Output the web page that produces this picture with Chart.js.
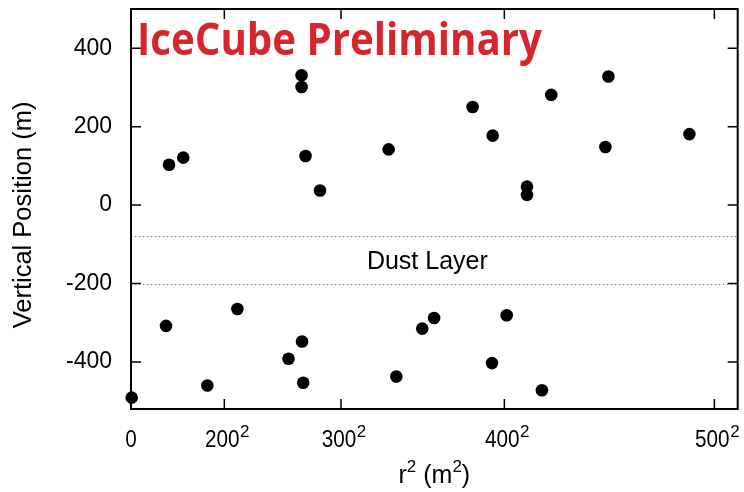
<!DOCTYPE html>
<html>
<head>
<meta charset="utf-8">
<script src="https://cdn.jsdelivr.net/npm/chart.js@4"></script>
<style>
  html, body { margin: 0; padding: 0; background: #fff; }
  canvas { display: block; }
</style>
</head>
<body>
<canvas id="c" width="744" height="492"></canvas>
<script>
// ---- data ----
const r2Values = [16300, 22400, 73100, 73100, 74800, 81000, 110400, 146400, 155000, 180100, 204600, 203300, 239300, 169700, 169700,
                  300, 15000, 32700, 45600, 67500, 73300, 73800, 113700, 124800, 129900, 154700, 161000, 176100];
const zValues  = [103, 121, 331, 301, 125, 37, 142, 250, 177, 281, 328, 148, 181, 47, 26,
                  -491, -308, -460, -265, -392, -348, -453, -437, -315, -288, -403, -281, -472];
const xTickValues = [0, 40000, 90000, 160000, 250000];
const xTickBases  = ['0', '200', '300', '400', '500'];
const xTickPowers = ['', '2', '2', '2', '2'];
const yTickValues = [-400, -200, 0, 200, 400];
const dustLayer = [-80, -200];
const dustLabel = 'Dust Layer';
const titleText = 'IceCube Preliminary';
const yTitleText = 'Vertical Position (m)';
const xTitleParts = [['r', false], ['2', true], [' (m', false], ['2', true], [')', false]];

const points = r2Values.map((x, i) => ({ x: x, y: zValues[i] }));
const FONT = '"Liberation Sans", Arial, sans-serif';

const framePlugin = {
  id: 'frame',
  beforeDatasetsDraw(chart) {
    const { ctx, chartArea: a, scales } = chart;
    const ys = scales.y;
    ctx.save();
    ctx.strokeStyle = '#777';
    ctx.lineWidth = 1;
    ctx.setLineDash([1.2, 2.8]);
    dustLayer.forEach(v => {
      const py = Math.round(ys.getPixelForValue(v)) + 0.5;
      ctx.beginPath();
      ctx.moveTo(a.left, py);
      ctx.lineTo(a.right, py);
      ctx.stroke();
    });
    ctx.setLineDash([]);
    ctx.fillStyle = '#000';
    ctx.font = '25px ' + FONT;
    ctx.textAlign = 'center';
    ctx.textBaseline = 'middle';
    const mid = ys.getPixelForValue((dustLayer[0] + dustLayer[1]) / 2);
    ctx.fillText(dustLabel, scales.x.getPixelForValue(127000), mid + 2);
    ctx.restore();
  },
  afterDraw(chart) {
    const { ctx, chartArea: a, scales } = chart;
    ctx.save();
    ctx.fillStyle = '#000';
    ctx.textBaseline = 'alphabetic';
    ctx.textAlign = 'left';
    // x tick labels with superscripts
    const baseY = 447;
    scales.x.ticks.forEach(t => {
      const i = xTickValues.indexOf(t.value);
      if (i < 0) return;
      const px = scales.x.getPixelForValue(t.value);
      ctx.font = '23px ' + FONT;
      const wb = ctx.measureText(xTickBases[i]).width * 0.9;
      ctx.font = '17px ' + FONT;
      const wp = xTickPowers[i] ? ctx.measureText(xTickPowers[i]).width : 0;
      const x0 = px - wb / 2 - (wp ? 2 : 0);
      ctx.save();
      ctx.translate(x0, baseY);
      ctx.scale(0.9, 1);
      ctx.font = '23px ' + FONT;
      ctx.fillText(xTickBases[i], 0, 0);
      ctx.restore();
      if (wp) {
        ctx.font = '17px ' + FONT;
        ctx.fillText(xTickPowers[i], x0 + wb + 0.5, baseY - 10);
      }
    });
    // x axis title with superscripts
    const xs = scales.x;
    let total = 0;
    xTitleParts.forEach(([s, sup]) => {
      ctx.font = (sup ? '17px ' : '25px ') + FONT;
      total += ctx.measureText(s).width;
    });
    let cx = (a.left + a.right) / 2 - total / 2;
    const tb = 483;
    xTitleParts.forEach(([s, sup]) => {
      ctx.font = (sup ? '17px ' : '25px ') + FONT;
      ctx.fillText(s, cx, sup ? tb - 11 : tb);
      cx += ctx.measureText(s).width;
    });
    // y axis title
    ctx.save();
    ctx.translate(24, 215);
    ctx.rotate(-Math.PI / 2);
    ctx.font = '25.5px ' + FONT;
    ctx.textAlign = 'center';
    ctx.textBaseline = 'middle';
    ctx.fillText(yTitleText, 0, 0);
    ctx.restore();

    ctx.strokeStyle = '#000';
    ctx.lineWidth = 1.5;
    const tl = 10;
    xTickValues.forEach(v => {
      const px = xs.getPixelForValue(v);
      if (px <= a.left + 1) return;
      ctx.beginPath();
      ctx.moveTo(px, a.bottom); ctx.lineTo(px, a.bottom - tl);
      ctx.moveTo(px, a.top); ctx.lineTo(px, a.top + tl);
      ctx.stroke();
    });
    yTickValues.forEach(v => {
      const py = scales.y.getPixelForValue(v);
      ctx.beginPath();
      ctx.moveTo(a.left, py); ctx.lineTo(a.left + tl, py);
      ctx.moveTo(a.right, py); ctx.lineTo(a.right - tl, py);
      ctx.stroke();
    });
    ctx.lineWidth = 2;
    ctx.strokeRect(a.left, a.top, a.right - a.left, a.bottom - a.top);
    // title
    ctx.fillStyle = '#d6262d';
    ctx.font = 'bold 44px "Open Sans", "Noto Sans", sans-serif';
    const w = ctx.measureText(titleText).width;
    const target = 405;
    ctx.translate(a.left + 6, 55);
    ctx.scale(target / w, 1);
    ctx.fillText(titleText, 0, 0);
    ctx.restore();
  }
};

new Chart(document.getElementById('c'), {
  type: 'scatter',
  data: {
    datasets: [{
      data: points,
      backgroundColor: '#000',
      borderColor: '#000',
      pointRadius: 6.3,
      pointHoverRadius: 6.3,
      borderWidth: 0,
      clip: false
    }]
  },
  options: {
    responsive: false,
    animation: false,
    events: [],
    layout: { padding: { left: 0, right: 6, top: 9, bottom: 0 } },
    plugins: { legend: { display: false }, tooltip: { enabled: false } },
    scales: {
      x: {
        type: 'linear',
        min: 0,
        max: 260000,
        afterFit(s) { s.height = 83; s.paddingLeft = 0; s.paddingRight = 0; },
        afterBuildTicks(s) { s.ticks = xTickValues.map(v => ({ value: v })); },
        grid: { display: false },
        border: { display: false },
        ticks: {
          padding: 12,
          color: 'rgba(0,0,0,0)',
          maxRotation: 0,
          autoSkip: false,
          font: { family: FONT, size: 22 },
          callback(v) { const i = xTickValues.indexOf(v); return i >= 0 ? xTickBases[i] + (xTickPowers[i] ? '²' : '') : ''; }
        },
        title: { display: false }
      },
      y: {
        type: 'linear',
        min: -520,
        max: 500,
        afterFit(s) { s.width = 131; s.paddingTop = 0; s.paddingBottom = 0; },
        afterBuildTicks(s) { s.ticks = yTickValues.map(v => ({ value: v })); },
        grid: { display: false },
        border: { display: false },
        ticks: {
          padding: 11,
          color: '#000',
          autoSkip: false,
          font: { family: FONT, size: 23 },
          callback(v) { return String(v); }
        },
        title: { display: false }
      }
    }
  },
  plugins: [framePlugin]
});
</script>
</body>
</html>
